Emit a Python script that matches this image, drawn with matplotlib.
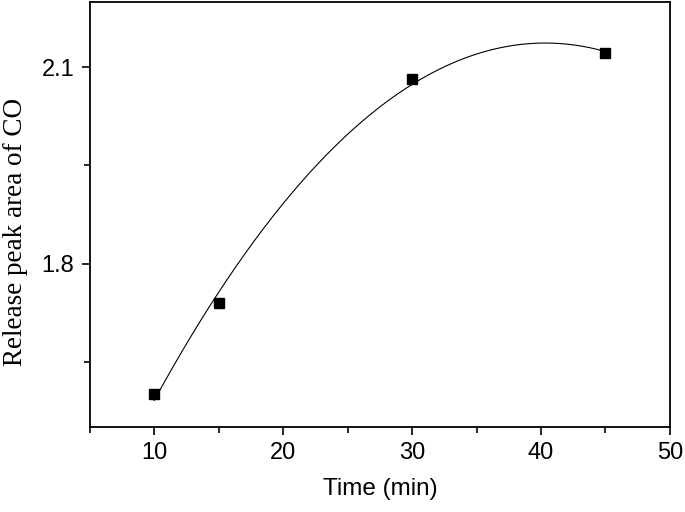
import numpy as np
import matplotlib
matplotlib.use('Agg')
import matplotlib.pyplot as plt
from matplotlib.ticker import MultipleLocator

time_min = [10, 15, 30, 45]
peak_area = [1.601, 1.740, 2.082, 2.122]

# quadratic fit curve through the measured points
coef = np.polyfit(time_min, peak_area, 2)
xfit = np.linspace(10, 45, 200)
yfit = np.polyval(coef, xfit)

fig = plt.figure(figsize=(6.85, 5.12), dpi=100)
ax = fig.add_axes([0.131, 0.166, 0.847, 0.830])
ax.plot(xfit, yfit, color='black', lw=0.8)
ax.plot(time_min, peak_area, 's', color='black', ms=7)

ax.set_xlim(5, 50)
ax.set_ylim(1.55, 2.2)
ax.xaxis.set_major_locator(MultipleLocator(10))
ax.xaxis.set_minor_locator(MultipleLocator(5))
ax.yaxis.set_minor_locator(MultipleLocator(0.15))
ax.set_yticks([1.8, 2.1])
ax.tick_params(which='major', direction='out', length=6, width=1.2, labelsize=17, pad=5)
ax.tick_params(which='minor', direction='out', length=4, width=1.2)
for lab in ax.get_xticklabels() + ax.get_yticklabels():
    lab.set_family('Liberation Sans')
for s in ax.spines.values():
    s.set_linewidth(1.3)

ax.set_xlabel('Time (min)', family='Liberation Sans', fontsize=17.5, labelpad=10)
ax.set_ylabel('Release peak area of CO', family='Liberation Serif', fontsize=19.5)
ax.yaxis.set_label_coords(-0.106, 0.46)

plt.savefig('out.png')
